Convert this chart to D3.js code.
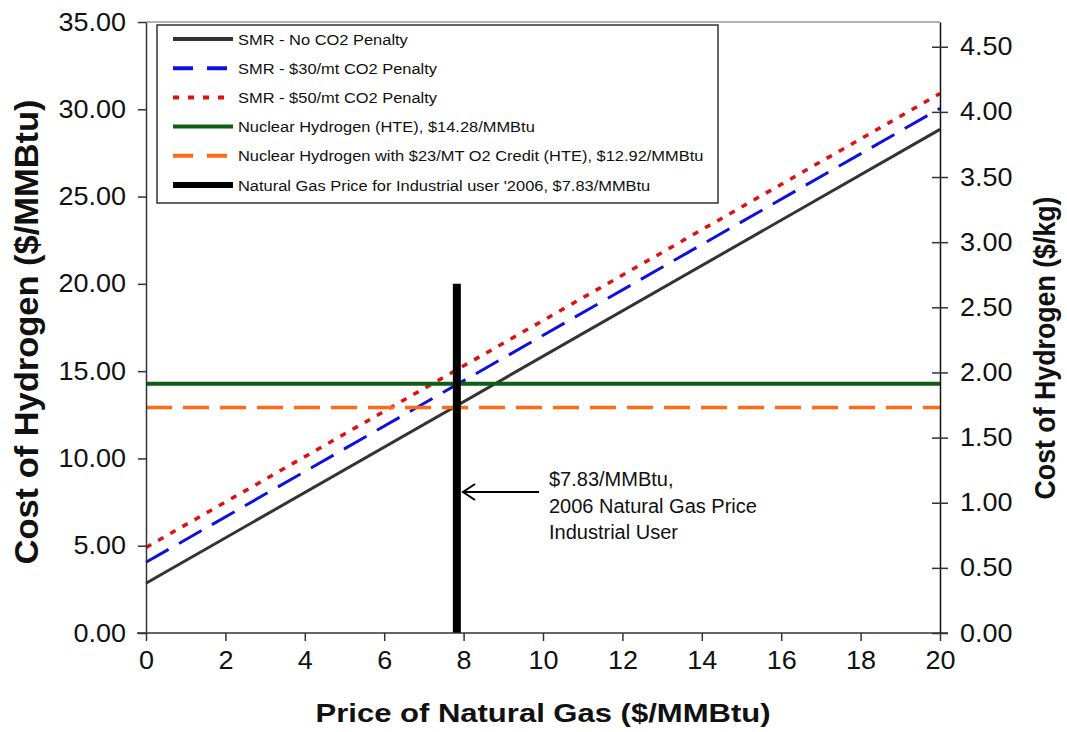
<!DOCTYPE html>
<html><head><meta charset="utf-8">
<script src="https://cdn.jsdelivr.net/npm/d3@7"></script>
<style>body{margin:0;background:#fff;font-family:"Liberation Sans",Arial,sans-serif;}</style>
</head><body><div id="chart"></div>
<script>
const xTicks = [0,2,4,6,8,10,12,14,16,18,20];
const yTicks = [0,5,10,15,20,25,30,35];
const yRightTicks = [0,0.5,1,1.5,2,2.5,3,3.5,4,4.5];
const gasPrice = [0,20];
const smrNoPenalty = [2.85,28.85];
const smr30 = [4.05,30.05];
const smr50 = [4.9,30.9];
const nuclearHTE = 14.28;
const nuclearO2 = 12.92;
const ngPrice2006 = 7.83;
const ngLineTop = 20;
const mmbtuPerKg = 0.134;
const legendLabels = ["SMR - No CO2 Penalty","SMR - $30/mt CO2 Penalty","SMR - $50/mt CO2 Penalty","Nuclear Hydrogen (HTE), $14.28/MMBtu","Nuclear Hydrogen with $23/MT O2 Credit (HTE), $12.92/MMBtu","Natural Gas Price for Industrial user '2006, $7.83/MMBtu"];
const annotation = ["$7.83/MMBtu,","2006 Natural Gas Price","Industrial User"];

const W=1067,H=732;
const m={l:146,r:127,t:22,b:99};
const svg=d3.select("#chart").append("svg").attr("width",W).attr("height",H).style("font-family","Liberation Sans, Arial, sans-serif");
const x=d3.scaleLinear().domain([0,20]).range([m.l,W-m.r]);
const y=d3.scaleLinear().domain([0,35]).range([H-m.b,m.t]);
const yR=d3.scaleLinear().domain([0,35*mmbtuPerKg]).range([H-m.b,m.t]);

function stretch(sel,f){
  sel.each(function(){const L=this.getComputedTextLength();d3.select(this).attr("textLength",L*f).attr("lengthAdjust","spacingAndGlyphs");});
}

const styles=[
 {c:"#333333",w:3,d:null},
 {c:"#1010dd",w:3,d:"26,12"},
 {c:"#e01010",w:3.5,d:"6,8"},
 {c:"#0f5e14",w:4,d:null},
 {c:"#ff6a13",w:3.5,d:"26,11"},
 {c:"#000000",w:8,d:null}
];

svg.append("line").attr("x1",x(0)).attr("x2",x(20)).attr("y1",y(35)).attr("y2",y(35)).attr("stroke","#999").attr("stroke-width",1.5);

const line=d3.line().x(d=>x(d[0])).y(d=>y(d[1]));
const g=svg.append("g");
function draw(data,s){
  g.append("path").attr("d",line(data)).attr("fill","none").attr("stroke",s.c).attr("stroke-width",s.w).attr("stroke-dasharray",s.d);
}
draw(gasPrice.map((v,i)=>[v,smrNoPenalty[i]]),styles[0]);
draw(gasPrice.map((v,i)=>[v,smr30[i]]),styles[1]);
draw(gasPrice.map((v,i)=>[v,smr50[i]]),styles[2]);
draw(gasPrice.map(v=>[v,nuclearHTE]),styles[3]);
draw(gasPrice.map(v=>[v,nuclearO2]),styles[4]);
draw([[ngPrice2006,0],[ngPrice2006,ngLineTop]],styles[5]);

const fs=25;
const ax=svg.append("g").attr("transform",`translate(0,${y(0)})`).call(d3.axisBottom(x).tickValues(xTicks).tickSize(8).tickSizeOuter(0).tickPadding(10));
ax.select(".domain").attr("stroke","#333").attr("stroke-width",1.5).attr("d",`M${x(0)-9},0H${x(20)+8}`);
const ay=svg.append("g").attr("transform",`translate(${x(0)},0)`).call(d3.axisLeft(y).tickValues(yTicks).tickFormat(d3.format(".2f")).tickSize(8).tickSizeOuter(0).tickPadding(12));
ay.select(".domain").attr("stroke","#333").attr("stroke-width",1.5);
const ar=svg.append("g").attr("transform",`translate(${x(20)},0)`).call(d3.axisRight(yR).tickValues(yRightTicks).tickFormat(d3.format(".2f")).tickSize(8).tickSizeOuter(0).tickPadding(12));
ar.selectAll(".tick line").attr("x1",-8);
ar.select(".domain").attr("stroke","#111").attr("stroke-width",1.5);
svg.selectAll(".tick line").attr("stroke","#333").attr("stroke-width",1.5);
svg.selectAll(".tick text").attr("font-family","Liberation Sans, Arial, sans-serif").attr("font-size",fs).attr("fill","#111");
stretch(svg.selectAll(".tick text"),1.08);

svg.append("text").attr("x",(x(0)+x(20))/2).attr("y",722).attr("text-anchor","middle").attr("font-weight","bold").attr("font-size",26).attr("fill","#111").attr("textLength",455).attr("lengthAdjust","spacingAndGlyphs").text("Price of Natural Gas ($/MMBtu)");
svg.append("text").attr("transform",`translate(38,332) rotate(-90)`).attr("text-anchor","middle").attr("font-weight","bold").attr("font-size",33).attr("fill","#111").attr("textLength",465).attr("lengthAdjust","spacingAndGlyphs").text("Cost of Hydrogen ($/MMBtu)");
svg.append("text").attr("transform",`translate(1055,348) rotate(-90)`).attr("text-anchor","middle").attr("font-weight","bold").attr("font-size",30).attr("fill","#111").attr("textLength",303).attr("lengthAdjust","spacingAndGlyphs").text("Cost of Hydrogen ($/kg)");

const lg=svg.append("g");
lg.append("rect").attr("x",157).attr("y",25).attr("width",561).attr("height",178).attr("fill","#fff").attr("stroke","#333").attr("stroke-width",1.5);
legendLabels.forEach((t,i)=>{
  const yy=39+i*29.2;
  const s=styles[i];
  lg.append("line").attr("x1",173).attr("x2",233).attr("y1",yy).attr("y2",yy).attr("stroke",s.c).attr("stroke-width",i===5?6:4).attr("stroke-dasharray",s.d? (i===2?"6,9":"20,14"):null);
  lg.append("text").attr("class","lt").attr("x",238).attr("y",yy+5.5).attr("font-size",15.5).attr("fill","#111").text(t);
});
stretch(lg.selectAll(".lt"),1.06);

svg.append("line").attr("x1",539).attr("x2",463).attr("y1",492).attr("y2",492).attr("stroke","#000").attr("stroke-width",2);
svg.append("path").attr("d","M475,484 L463,492 L475,500").attr("fill","none").attr("stroke","#000").attr("stroke-width",2);
annotation.forEach((t,i)=>{
  svg.append("text").attr("x",549).attr("y",486+i*26.5).attr("font-size",20).attr("fill","#111").text(t);
});
</script></body></html>
